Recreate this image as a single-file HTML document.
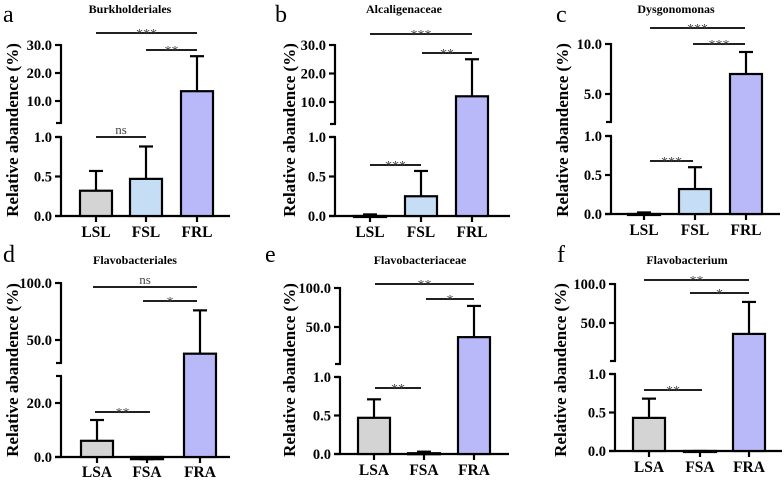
<!DOCTYPE html>
<html><head><meta charset="utf-8"><style>
body{margin:0;background:#fff}
svg{display:block}
text{font-family:"Liberation Serif","DejaVu Serif",serif}
</style></head><body>
<svg id="fig" width="784" height="481" viewBox="0 0 784 481" font-family="Liberation Serif, serif"></svg>
<script>
const catsL=['LSL','FSL','FRL'];
const catsA=['LSA','FSA','FRA'];
const titles=['Burkholderiales','Alcaligenaceae','Dysgonomonas','Flavobacteriales','Flavobacteriaceae','Flavobacterium'];
const letters=['a','b','c','d','e','f'];
const meansA=[0.32,0.47,13.5], errA=[0.57,0.88,26];
const meansB=[-0.01,0.25,12], errB=[0.02,0.57,25];
const meansC=[-0.01,0.32,7.0], errC=[0.02,0.6,9.2];
const meansD=[6,-0.8,38], errD=[13.7,-0.8,76];
const meansE=[0.47,0.01,37], errE=[0.71,0.03,77];
const meansF=[0.43,0,36], errF=[0.68,0,77];
const ticksLowA=[0,0.5,1.0], ticksUpA=[10,20,30];
const ticksUpC=[5,10];
const ticksLowD=[0,20], ticksUpD=[50,100];
const ticksUpE=[50,100];
const sigA=['***','**','ns'], sigB=['***','**','***'], sigC=['***','***','***'];
const sigD=['ns','*','**'], sigE=['**','*','**'], sigF=['**','*','**'];
const colors=['#d4d4d4','#c6ddf6','#b9b9fa'];

const panels=[
 {cats:catsL,m:meansA,e:errA,ax:61,axEnd:230,lo:[0,216,1,137],loMax:1,loTop:137,up:[10,101,30,45],upBot:123,upTop:44,tl:ticksLowA,tu:ticksUpA,cx:[96,146,197],sig:sigA,sb:[[96,197,33],[146,197,50],[96,146,137]],tx:130,ty:13,lx:3,ly:22,yl:[12,130],xly:237},
 {cats:catsL,m:meansB,e:errB,ax:335,axEnd:510,lo:[0,216,1,137],loMax:1,loTop:137,up:[10,102,30,45],upBot:124,upTop:44,tl:ticksLowA,tu:ticksUpA,cx:[370,421,472],sig:sigB,sb:[[370,472,34],[422,472,53],[370,421,165]],tx:404,ty:13,lx:275,ly:22,yl:[289,130],xly:237},
 {cats:catsL,m:meansC,e:errC,ax:611,axEnd:780,lo:[0,214,1,136],loMax:1,loTop:136,up:[5,94,10,44],upBot:122,upTop:43,tl:ticksLowA,tu:ticksUpC,cx:[644,695,746],sig:sigC,sb:[[650,745,28],[693,745,44],[650,693,161]],tx:676,ty:13,lx:556,ly:22,yl:[562,130],xly:235},
 {cats:catsA,m:meansD,e:errD,ax:61,axEnd:230,lo:[0,457,20,403],loMax:30,loTop:376,up:[50,340,100,283],upBot:363,upTop:282,tl:ticksLowD,tu:ticksUpD,cx:[97,147,200],sig:sigD,sb:[[93,197,287],[143,197,301],[95,150,412]],tx:135,ty:264,lx:3,ly:262,yl:[12,370],xly:477},
 {cats:catsA,m:meansE,e:errE,ax:340,axEnd:509,lo:[0,454,1,377],loMax:1,loTop:377,up:[50,327,100,288],upBot:364,upTop:287,tl:ticksLowA,tu:ticksUpE,cx:[374,424,474],sig:sigE,sb:[[375,474,284],[426,474,299],[375,421,388]],tx:420,ty:264,lx:265,ly:262,yl:[289,370],xly:475},
 {cats:catsA,m:meansF,e:errF,ax:615,axEnd:782,lo:[0,451,1,374],loMax:1,loTop:374,up:[50,323,100,284],upBot:361,upTop:283,tl:ticksLowA,tu:ticksUpE,cx:[649,700,749],sig:sigF,sb:[[644,749,280],[690,749,293],[644,702,390]],tx:687,ty:264,lx:557,ly:262,yl:[560,370],xly:472}
];
const svg=document.getElementById('fig');
const NS='http://www.w3.org/2000/svg';
const FF='Liberation Serif, DejaVu Serif, serif';
function mk(tag,attrs,parent,txt){const el=document.createElementNS(NS,tag);for(const k in attrs)el.setAttribute(k,attrs[k]);if(txt!==undefined){el.textContent=txt;el.setAttribute('font-family',FF);}parent.appendChild(el);return el;}
function lin(s,v){return s[1]+(v-s[0])*(s[3]-s[1])/(s[2]-s[0]);}
panels.forEach((p,i)=>{
 const g=mk('g',{},svg);
 
 
 const Y=v=>v>p.loMax?lin(p.up,v):lin(p.lo,v);
 const t=mk('text',{x:p.tx,y:p.ty,'text-anchor':'middle','font-size':12,'font-weight':'bold'},g,titles[i]);
 
 
 const L=mk('text',{x:p.lx,y:p.ly,'font-size':24},g,letters[i]);
 
 
 const yl=mk('text',{x:0,y:0,'text-anchor':'middle','font-size':17,'font-weight':'bold',transform:`translate(${p.yl[0]+6},${p.yl[1]}) rotate(-90)`},g,'Relative abandence (%)');
 
 
 const y0=Y(0);
 const la=mk('line',{x1:p.ax,x2:p.ax,y1:y0,y2:p.loTop,stroke:'#000','stroke-width':2.2},g);
 
 
 const ua=mk('line',{x1:p.ax,x2:p.ax,y1:p.upBot,y2:p.upTop,stroke:'#000','stroke-width':2.2},g);
 
 
 [p.upBot,p.loTop].forEach(yy=>{mk('line',{x1:p.ax-5,x2:p.ax+1,y1:yy,y2:yy,stroke:'#000','stroke-width':2.2},g);});
 const xa=mk('line',{x1:p.ax-6,x2:p.axEnd,y1:y0,y2:y0,stroke:'#000','stroke-width':2.2},g);
 
 
 p.tl.concat(p.tu).forEach(v=>{
  const yy=Y(v);
  mk('line',{x1:p.ax-6,x2:p.ax,y1:yy,y2:yy,stroke:'#000','stroke-width':2.2},g);
  const tt=mk('text',{x:p.ax-9,y:yy+5,'text-anchor':'end','font-size':14.5,'font-weight':'bold'},g,v.toFixed(1));
  
  
 });
 p.cats.forEach((c,j)=>{
  const cx=p.cx[j], yt=Y(p.m[j]), ye=Y(p.e[j]);
  const top=Math.min(yt,y0), h=Math.max(Math.abs(y0-yt),1);
  const eb=mk('line',{x1:cx,x2:cx,y1:ye,y2:yt,stroke:'#000','stroke-width':2.2},g);
  
  
  mk('line',{x1:cx-7,x2:cx+7,y1:ye,y2:ye,stroke:'#000','stroke-width':2.2},g);
  const r=mk('rect',{x:cx-16,y:top,width:32,height:h,fill:colors[j],stroke:'#000','stroke-width':2.2},g);
  
  
  mk('line',{x1:cx,x2:cx,y1:y0,y2:y0+6,stroke:'#000','stroke-width':2.2},g);
  const xl=mk('text',{x:cx,y:p.xly,'text-anchor':'middle','font-size':15.5,'font-weight':'bold'},g,c);
  
  
 });
 p.sb.forEach((s,k)=>{
  const sl=mk('line',{x1:s[0],x2:s[1],y1:s[2],y2:s[2],stroke:'#000','stroke-width':1.8},g);
  
  
  const ns=p.sig[k]==='ns';
  const st=mk('text',{x:(s[0]+s[1])/2,y:ns?s[2]-3:s[2]+5,'text-anchor':'middle','font-size':ns?13:14,fill:'#444'},g,p.sig[k]);
  
  
 });
});
</script>
</body></html>
